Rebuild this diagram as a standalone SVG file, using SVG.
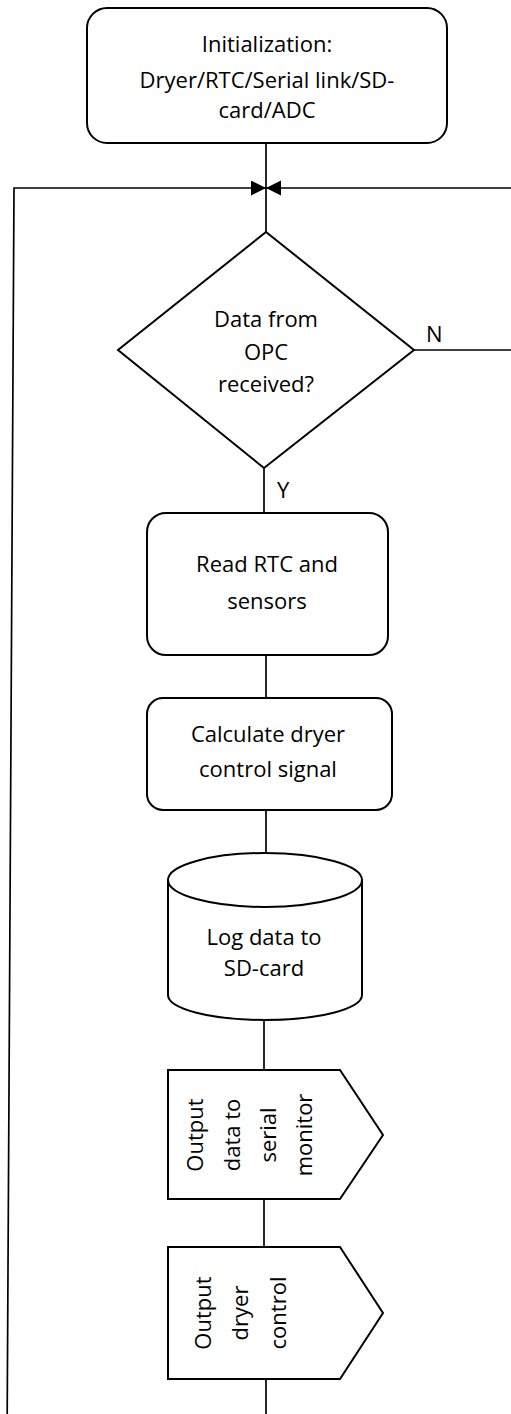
<svg xmlns="http://www.w3.org/2000/svg" width="511" height="1414" viewBox="0 0 511 1414">
  <style>
    .shape { fill: #ffffff; stroke: #000000; stroke-width: 2; }
    .conn { fill: none; stroke: #000000; stroke-width: 1.7; }
    .t { font-family: "Open Sans", "Liberation Sans", sans-serif; font-size: 22px; fill: #000000; text-anchor: middle; }
    .lbl { font-family: "Open Sans", "Liberation Sans", sans-serif; font-size: 22px; fill: #000000; }
  </style>
  <defs>
    <marker id="arrow" markerUnits="userSpaceOnUse" markerWidth="16" markerHeight="16" refX="15" refY="7.5" orient="auto">
      <path d="M0,0 L15,7.5 L0,15 z" fill="#000000"/>
    </marker>
  </defs>
  <rect width="511" height="1414" fill="#ffffff"/>

  <g id="connectors">
    <path class="conn" d="M266,143 V232"/>
    <path class="conn" d="M7.2,1414 L14,188 H266" marker-end="url(#arrow)"/>
    <path class="conn" d="M414,350 H530 V188 H266" marker-end="url(#arrow)"/>
    <path class="conn" d="M264,468 V513"/>
    <path class="conn" d="M266,655 V698"/>
    <path class="conn" d="M266,810 V853"/>
    <path class="conn" d="M264,1020 V1070"/>
    <path class="conn" d="M264,1199 V1247"/>
    <path class="conn" d="M266,1379 V1414"/>
    <text class="lbl" x="426" y="342">N</text>
    <text class="lbl" x="277" y="498">Y</text>
  </g>

  <g id="init">
    <rect class="shape" x="87" y="8" width="360" height="135" rx="20" ry="20"/>
    <text class="t" x="267" y="52">Initialization:</text>
    <text class="t" x="267" y="88">Dryer/RTC/Serial link/SD-</text>
    <text class="t" x="267" y="118">card/ADC</text>
  </g>

  <g id="decision">
    <polygon class="shape" points="266,232 414,350 264,468 118,350"/>
    <text class="t" x="266" y="327">Data from</text>
    <text class="t" x="266" y="360">OPC</text>
    <text class="t" x="266" y="392">received?</text>
  </g>

  <g id="read">
    <rect class="shape" x="147" y="513" width="241" height="142" rx="19" ry="19"/>
    <text class="t" x="267" y="572">Read RTC and</text>
    <text class="t" x="267" y="609">sensors</text>
  </g>

  <g id="calc">
    <rect class="shape" x="147" y="698" width="245" height="112" rx="16" ry="16"/>
    <text class="t" x="268" y="742">Calculate dryer</text>
    <text class="t" x="268" y="777">control signal</text>
  </g>

  <g id="log">
    <path class="shape" d="M168,880 A97,27 0 0 1 362,880 V995 A97,25 0 0 1 168,995 Z"/>
    <path class="shape" style="fill:none" d="M168,880 A97,27 0 0 0 362,880"/>
    <text class="t" x="264" y="945">Log data to</text>
    <text class="t" x="264" y="976">SD-card</text>
  </g>

  <g id="serial">
    <polygon class="shape" points="168,1070 340,1070 383,1135 340,1199 168,1199"/>
    <text class="t" transform="translate(203,1135) rotate(-90)">Output</text>
    <text class="t" transform="translate(240,1135) rotate(-90)">data to</text>
    <text class="t" transform="translate(276,1135) rotate(-90)">serial</text>
    <text class="t" transform="translate(312,1135) rotate(-90)">monitor</text>
  </g>

  <g id="dryer">
    <polygon class="shape" points="168,1247 340,1247 383,1313 340,1379 168,1379"/>
    <text class="t" transform="translate(211,1313) rotate(-90)">Output</text>
    <text class="t" transform="translate(248,1313) rotate(-90)">dryer</text>
    <text class="t" transform="translate(286,1313) rotate(-90)">control</text>
  </g>
</svg>
